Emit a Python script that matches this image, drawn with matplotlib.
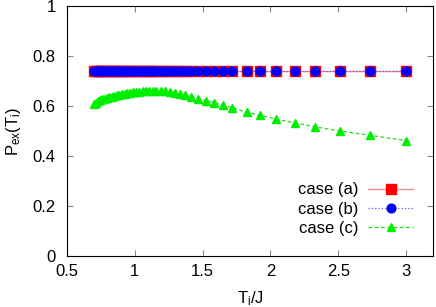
import numpy as np
import matplotlib
matplotlib.use("Agg")
import matplotlib.pyplot as plt

plt.rcParams['font.family'] = ['Liberation Sans', 'DejaVu Sans']
plt.rcParams['mathtext.fontset'] = 'custom'
plt.rcParams['mathtext.rm'] = 'Liberation Sans'
plt.rcParams['mathtext.it'] = 'Liberation Sans'

# temperatures T_i/J
T = [0.700, 0.715, 0.730, 0.746, 0.762, 0.778, 0.795, 0.812, 0.830, 0.848,
     0.867, 0.886, 0.906, 0.926, 0.947, 0.968, 0.990, 1.013, 1.036, 1.060,
     1.084, 1.109, 1.134, 1.160, 1.194, 1.226, 1.258, 1.294, 1.331, 1.368,
     1.417, 1.470, 1.527, 1.588, 1.654, 1.719, 1.824, 1.926, 2.043, 2.178,
     2.329, 2.515, 2.734, 3.000]

# case (a) and (b) stay flat
p_a = [0.742] * len(T)
p_b = [0.741] * len(T)

# case (c)
p_c = [0.608, 0.614, 0.619, 0.623, 0.627, 0.630, 0.633, 0.636, 0.638, 0.641,
       0.643, 0.645, 0.647, 0.649, 0.651, 0.653, 0.655, 0.657, 0.658, 0.659,
       0.660, 0.661, 0.661, 0.661, 0.660, 0.659, 0.657, 0.654, 0.650, 0.645,
       0.638, 0.630, 0.622, 0.613, 0.603, 0.593, 0.576, 0.563, 0.548, 0.533,
       0.517, 0.500, 0.483, 0.462]

fig = plt.figure(figsize=(4.36, 3.07), dpi=100)
ax = fig.add_axes([0.153, 0.166, 0.841, 0.814])

ax.plot(T, p_a, color='#ff8a8a', lw=1.0, ls='-', marker='s', ms=6.5,
        mec='red', mfc='red', label='case (a)')
ax.plot(T, p_b, color='#5a5aff', lw=0.9, ls=':', marker='o', ms=6.3,
        mec='blue', mfc='blue', label='case (b)')
ax.plot(T, p_c, color='#22dd22', lw=0.9, ls='--', dashes=(3, 2), marker='^',
        ms=5.5, mec='#00ee00', mfc='#00ee00', label='case (c)')

ax.set_xlim(0.5, 3.2)
ax.set_ylim(0, 1)
ax.set_xticks([0.5, 1, 1.5, 2, 2.5, 3])
ax.set_xticklabels(['0.5', '1', '1.5', '2', '2.5', '3'])
ax.set_yticks([0, 0.2, 0.4, 0.6, 0.8, 1])
ax.set_yticklabels(['0', '0.2', '0.4', '0.6', '0.8', '1'])
ax.tick_params(direction='in', top=True, right=True, length=4, width=0.8,
               labelsize=12, color='#888888')
ax.tick_params(axis='y', pad=8)
ax.tick_params(axis='x', pad=6)

ax.set_xlabel(r'T$_\mathrm{i}$/J', fontsize=12)
ax.set_ylabel(r'P$_\mathrm{ex}$(T$_\mathrm{i}$)', fontsize=12)
ax.xaxis.set_label_coords(0.5, -0.135)
ax.yaxis.set_label_coords(-0.118, 0.5)

ax.legend(loc='lower right', frameon=False, markerfirst=False, fontsize=12,
          handlelength=2.7, labelspacing=0.26, borderaxespad=0.8,
          handletextpad=0.6)

fig.savefig('out.png', dpi=100)
